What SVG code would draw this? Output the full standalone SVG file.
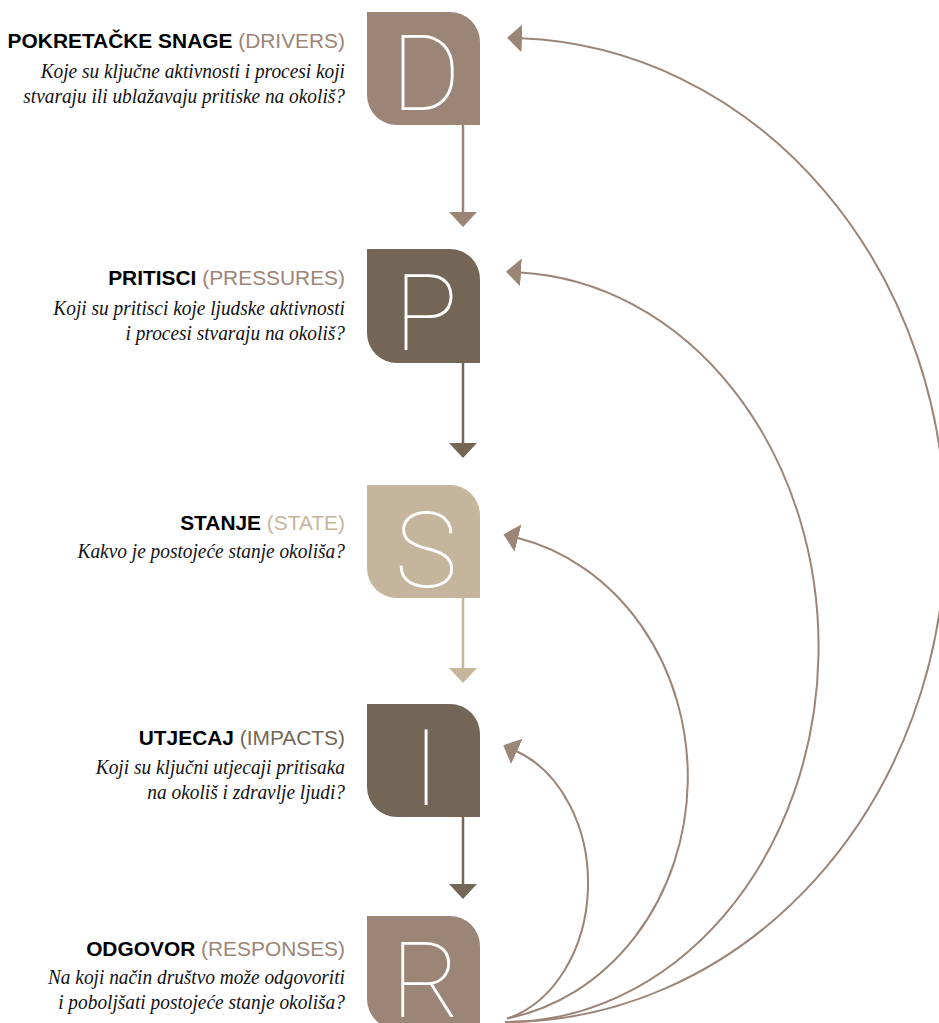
<svg xmlns="http://www.w3.org/2000/svg" width="939" height="1023" viewBox="0 0 939 1023">
<style>
.bg{fill:#ffffff}
.box-t{fill:#9b8577}
.box-d{fill:#736656}
.box-b{fill:#c5b59c}
.letter{font-family:Roboto,"Open Sans","Liberation Sans",sans-serif;font-weight:100;font-size:106px;fill:#ffffff;text-anchor:middle}
.title{font-family:"Liberation Sans",Arial,sans-serif;font-size:20.9px;text-anchor:end;fill:#000000}
.title .b{font-weight:bold}
.desc{font-family:"Liberation Serif","Times New Roman",serif;font-style:italic;font-size:21.5px;text-anchor:end;fill:#111111}
.c-t{fill:#9b8577}
.c-d{fill:#736656}
.c-b{fill:#c5b59c}
.down{stroke-width:2.5;fill:none}
.curve{stroke:#9b8577;stroke-width:2;fill:none;marker-end:url(#ah-t)}
</style>
<defs>
<marker id="ah-t" viewBox="0 0 15 28" refX="1" refY="14" markerWidth="15" markerHeight="28" markerUnits="userSpaceOnUse" orient="auto"><path d="M0,0 L15,14 L0,28 Z" fill="#9b8577"/></marker>
<marker id="ah-d" viewBox="0 0 15 28" refX="1" refY="14" markerWidth="15" markerHeight="28" markerUnits="userSpaceOnUse" orient="auto"><path d="M0,0 L15,14 L0,28 Z" fill="#736656"/></marker>
<marker id="ah-b" viewBox="0 0 15 28" refX="1" refY="14" markerWidth="15" markerHeight="28" markerUnits="userSpaceOnUse" orient="auto"><path d="M0,0 L15,14 L0,28 Z" fill="#c5b59c"/></marker>
</defs>
<rect class="bg" x="0" y="0" width="939" height="1023"/>

<g id="connectors">
<line class="down" x1="463" y1="125" x2="463" y2="213" stroke="#9b8577" marker-end="url(#ah-t)"/>
<line class="down" x1="463" y1="363" x2="463" y2="444" stroke="#736656" marker-end="url(#ah-d)"/>
<line class="down" x1="463" y1="598" x2="463" y2="669" stroke="#c5b59c" marker-end="url(#ah-b)"/>
<line class="down" x1="463" y1="817" x2="463" y2="885" stroke="#736656" marker-end="url(#ah-d)"/>
<path class="curve" d="M507,1022 A440,492 0 0 0 521,38.3"/>
<path class="curve" d="M505,1022 A313,375 0 0 0 520,272.4"/>
<path class="curve" d="M507,1018.4 A218,245 0 0 0 517,537.8"/>
<path class="curve" d="M507,1018.6 A108,140 0 0 0 516,751"/>
</g>

<g id="node-D">
<path class="box-t" d="M367,12 H450 A30,30 0 0 1 480,42 V125 H397 A30,30 0 0 1 367,95 Z"/>
<text class="letter" x="426" y="110">D</text>
<text class="title" x="345" y="48"><tspan class="b">POKRETAČKE SNAGE</tspan> <tspan class="c-t">(DRIVERS)</tspan></text>
<g transform="scale(0.9 1)">
<text class="desc" x="383.3" y="78">Koje su ključne aktivnosti i procesi koji</text>
<text class="desc" x="383.3" y="103">stvaraju ili ublažavaju pritiske na okoliš?</text>
</g>
</g>

<g id="node-P">
<path class="box-d" d="M367,249 H450 A30,30 0 0 1 480,279 V363 H397 A30,30 0 0 1 367,333 Z"/>
<text class="letter" x="426" y="350">P</text>
<text class="title" x="345" y="285"><tspan class="b">PRITISCI</tspan> <tspan class="c-t">(PRESSURES)</tspan></text>
<g transform="scale(0.9 1)">
<text class="desc" x="383.3" y="315">Koji su pritisci koje ljudske aktivnosti</text>
<text class="desc" x="383.3" y="340">i procesi stvaraju na okoliš?</text>
</g>
</g>

<g id="node-S">
<path class="box-b" d="M367,485 H450 A30,30 0 0 1 480,515 V598 H397 A30,30 0 0 1 367,568 Z"/>
<text class="letter" x="426" y="587">S</text>
<text class="title" x="345" y="530"><tspan class="b">STANJE</tspan> <tspan class="c-b">(STATE)</tspan></text>
<g transform="scale(0.9 1)">
<text class="desc" x="383.3" y="558">Kakvo je postojeće stanje okoliša?</text>
</g>
</g>

<g id="node-I">
<path class="box-d" d="M367,704 H450 A30,30 0 0 1 480,734 V817 H397 A30,30 0 0 1 367,787 Z"/>
<text class="letter" x="426" y="805">I</text>
<text class="title" x="345" y="745"><tspan class="b">UTJECAJ</tspan> <tspan class="c-d">(IMPACTS)</tspan></text>
<g transform="scale(0.9 1)">
<text class="desc" x="383.3" y="774">Koji su ključni utjecaji pritisaka</text>
<text class="desc" x="383.3" y="799">na okoliš i zdravlje ljudi?</text>
</g>
</g>

<g id="node-R">
<path class="box-t" d="M367,916 H450 A30,30 0 0 1 480,946 V1029 H397 A30,30 0 0 1 367,999 Z"/>
<text class="letter" x="426" y="1017">R</text>
<text class="title" x="345" y="956"><tspan class="b">ODGOVOR</tspan> <tspan class="c-t">(RESPONSES)</tspan></text>
<g transform="scale(0.9 1)">
<text class="desc" x="383.3" y="984">Na koji način društvo može odgovoriti</text>
<text class="desc" x="383.3" y="1009">i poboljšati postojeće stanje okoliša?</text>
</g>
</g>
</svg>
